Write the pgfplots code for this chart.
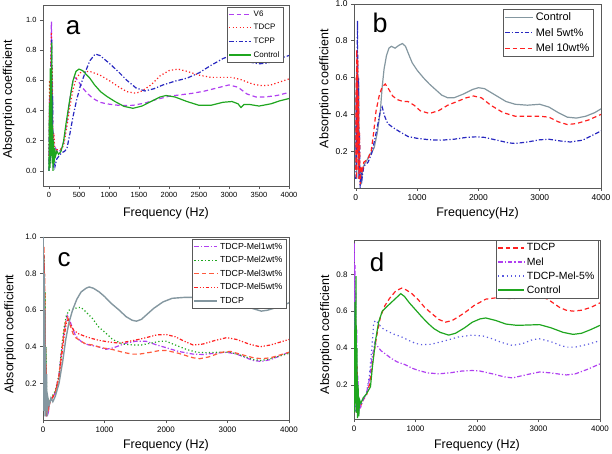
\documentclass[border=0pt]{standalone}
\usepackage{pgfplots}
\pgfplotsset{compat=1.18}
\usepackage{fontspec}
\setmainfont{Liberation Sans}
\definecolor{cgreen}{HTML}{1FA61F}
\definecolor{cred}{HTML}{FF2020}
\definecolor{cblue}{HTML}{2828C0}
\definecolor{cviolet}{HTML}{B040F0}
\definecolor{cgray}{HTML}{8497A0}
\definecolor{corange}{HTML}{FF5A3C}
\definecolor{cdblue}{HTML}{5A5AE0}
\pgfplotsset{
  panel/.style={
    scale only axis, anchor=south west,
    axis line style={gray!70!black, line width=0.8bp},
    tick style={gray!70!black, line width=0.6bp},
    tick align=outside, major tick length=3bp,
    xtick pos=bottom, ytick pos=left,
    tick label style={font=\fontsize{8.5}{9}\selectfont},
    /pgf/number format/assume math mode=true,
    /pgf/number format/set thousands separator={},
    yticklabel style={/pgf/number format/fixed,/pgf/number format/fixed zerofill,/pgf/number format/precision=1},
    label style={font=\fontsize{12.5}{13}\selectfont},
    legend cell align=left,
    legend style={draw=gray!70!black, fill=white, anchor=north east, inner sep=1.5bp},
    every axis plot/.append style={line width=1.2bp},
  },
  dashV/.style={dash pattern=on 4.5bp off 3bp},
  dotR/.style={dash pattern=on 1.2bp off 2.3bp},
  dashdot/.style={dash pattern=on 4.5bp off 2bp on 1.2bp off 2bp},
  dashdotdot/.style={dash pattern=on 3.5bp off 1.8bp on 1.2bp off 1.8bp on 1.2bp off 1.8bp},
}
\begin{document}
\begin{tikzpicture}
\useasboundingbox (0bp,0bp) rectangle (612bp,454bp);
% ---------------- panel a
\begin{axis}[panel, at={(43bp,268bp)}, width=246bp, height=181bp,
  xmin=-100, xmax=4000, ymin=-0.1, ymax=1.1,
  xtick={0,500,...,4000}, ytick={0,0.2,...,1.0},
  tick label style={font=\fontsize{7.5}{8}\selectfont},
  xlabel={Frequency (Hz)}, ylabel={Absorption coefficient},
  xlabel style={at={(axis description cs:0.5,-0.149)},anchor=center},
  ylabel style={at={(axis description cs:-0.14,0.48)},anchor=center},
  legend style={at={(axis description cs:0.976,0.989)}, font=\fontsize{8}{9}\selectfont, row sep=2.5bp},
  legend image code/.code={\draw[line width=1.2bp,#1] (0bp,0bp) -- (22bp,0bp);},
]
\addplot[cviolet, dashV] coordinates {(0,0.05)(10,0.5)(20,0.1)(30,0.7)(40,0.99)(48,0.3)(55,0.6)(65,0.05)(75,0.2)(90,0.1)(110,0.15)(150,0.12)(200,0.14)(250,0.2)(300,0.33)(350,0.48)(400,0.6)(430,0.62)(480,0.6)(560,0.55)(650,0.51)(735,0.48)(850,0.455)(960,0.445)(1100,0.437)(1250,0.433)(1400,0.435)(1600,0.45)(1800,0.475)(2000,0.495)(2200,0.505)(2400,0.515)(2600,0.53)(2800,0.55)(3000,0.57)(3150,0.555)(3300,0.51)(3450,0.49)(3600,0.49)(3800,0.5)(4000,0.52)};
\addlegendentry{V6}
\addplot[cred, dotR] coordinates {(0,0.1)(10,0.6)(20,0.05)(30,0.75)(40,0.92)(48,0.4)(55,0.7)(65,0.1)(80,0.25)(100,0.12)(130,0.14)(170,0.14)(220,0.15)(250,0.18)(300,0.3)(350,0.43)(400,0.54)(450,0.61)(520,0.65)(600,0.66)(700,0.657)(850,0.635)(1000,0.6)(1150,0.56)(1300,0.525)(1450,0.515)(1550,0.53)(1700,0.57)(1850,0.63)(2000,0.665)(2150,0.675)(2300,0.66)(2500,0.635)(2700,0.62)(2900,0.62)(3050,0.62)(3200,0.605)(3400,0.575)(3550,0.565)(3700,0.57)(3850,0.59)(4000,0.61)};
\addlegendentry{TDCP}
\addplot[cblue, dashdot] coordinates {(0,0.0)(10,0.4)(20,0.05)(35,0.6)(45,0.87)(52,0.2)(60,0.5)(70,0.02)(85,0.1)(100,0.03)(130,0.08)(170,0.1)(210,0.12)(260,0.13)(300,0.15)(350,0.25)(400,0.36)(460,0.47)(520,0.56)(600,0.65)(680,0.73)(770,0.775)(850,0.765)(1000,0.715)(1150,0.66)(1300,0.6)(1450,0.55)(1600,0.53)(1750,0.545)(1900,0.57)(2100,0.595)(2300,0.615)(2500,0.65)(2700,0.7)(2900,0.745)(3000,0.76)(3150,0.75)(3300,0.725)(3500,0.71)(3650,0.715)(3800,0.74)(4000,0.765)};
\addlegendentry{TCPP}
\addplot[cgreen] coordinates {(0,0)(8,0.45)(15,0.02)(22,0.68)(30,0.1)(38,0.55)(45,0.85)(52,0.05)(60,0.3)(68,0.0)(75,0.2)(85,0.05)(95,0.15)(110,0.1)(130,0.13)(160,0.11)(200,0.13)(240,0.19)(290,0.33)(345,0.47)(400,0.6)(450,0.66)(500,0.675)(560,0.665)(620,0.64)(680,0.615)(760,0.57)(860,0.525)(960,0.495)(1100,0.46)(1250,0.428)(1400,0.415)(1550,0.43)(1700,0.46)(1850,0.49)(1950,0.5)(2100,0.49)(2300,0.46)(2500,0.435)(2700,0.435)(2900,0.455)(3050,0.46)(3150,0.445)(3200,0.42)(3250,0.44)(3350,0.44)(3500,0.43)(3700,0.445)(3850,0.465)(4000,0.48)};
\addlegendentry{Control}
\end{axis}
\node[font=\fontsize{26}{26}\selectfont] at (73bp,426bp) {a};
% ---------------- panel b
\begin{axis}[panel, at={(354bp,266bp)}, width=247bp, height=184bp,
  xmin=-30, xmax=4000, ymin=0, ymax=1.0,
  xtick={0,1000,...,4000}, ytick={0.2,0.4,...,1.0},
  xlabel={Frequency(Hz)}, ylabel={Absorption coefficient},
  xlabel style={at={(axis description cs:0.5,-0.136)},anchor=center},
  ylabel style={at={(axis description cs:-0.117,0.54)},anchor=center},
  legend style={at={(axis description cs:0.968,0.973)}, font=\fontsize{11}{12}\selectfont, row sep=2bp},
  legend image code/.code={\draw[line width=1.3bp,#1] (0bp,0bp) -- (28bp,0bp);},
]
\addplot[cgray] coordinates {(0,0.1)(8,0.6)(15,0.05)(25,0.7)(35,0.2)(45,0.6)(55,0.05)(70,0.1)(90,0.02)(110,0.1)(140,0.13)(180,0.15)(220,0.18)(270,0.2)(300,0.22)(350,0.3)(400,0.42)(430,0.55)(460,0.645)(500,0.72)(540,0.76)(580,0.77)(640,0.76)(700,0.775)(760,0.785)(810,0.77)(870,0.72)(920,0.68)(1000,0.64)(1100,0.6)(1200,0.565)(1300,0.535)(1400,0.505)(1500,0.49)(1600,0.49)(1750,0.51)(1900,0.535)(2000,0.545)(2100,0.54)(2250,0.51)(2450,0.47)(2600,0.455)(2800,0.45)(3000,0.455)(3150,0.44)(3300,0.41)(3450,0.385)(3600,0.38)(3750,0.39)(3900,0.41)(4000,0.43)};
\addlegendentry{Control}
\addplot[cblue, dashdot] coordinates {(0,0.05)(6,0.5)(12,0.1)(20,0.7)(28,0.91)(34,0.2)(42,0.6)(50,0.05)(60,0.3)(70,0.0)(85,0.1)(100,0.05)(130,0.12)(170,0.13)(200,0.14)(260,0.19)(300,0.25)(350,0.33)(400,0.42)(430,0.44)(470,0.39)(520,0.35)(600,0.33)(720,0.305)(850,0.28)(1000,0.27)(1200,0.262)(1400,0.26)(1600,0.265)(1800,0.275)(1950,0.278)(2100,0.275)(2300,0.26)(2500,0.245)(2600,0.242)(2800,0.25)(3000,0.262)(3150,0.265)(3350,0.255)(3500,0.25)(3700,0.26)(3850,0.285)(4000,0.31)};
\addlegendentry{Mel 5wt\%}
\addplot[cred, dashV] coordinates {(0,0.1)(5,0.6)(10,0.05)(16,0.75)(24,0.2)(30,0.7)(38,0.1)(45,0.5)(52,0.05)(60,0.3)(70,0.02)(85,0.12)(100,0.08)(130,0.14)(170,0.15)(200,0.16)(250,0.2)(290,0.3)(330,0.42)(380,0.5)(430,0.55)(480,0.565)(540,0.535)(600,0.5)(680,0.48)(770,0.47)(850,0.47)(950,0.45)(1050,0.42)(1200,0.405)(1350,0.42)(1500,0.45)(1650,0.47)(1800,0.49)(1920,0.5)(2050,0.49)(2200,0.45)(2400,0.41)(2600,0.39)(2800,0.39)(3000,0.39)(3150,0.385)(3300,0.36)(3450,0.345)(3600,0.35)(3800,0.37)(4000,0.4)};
\addlegendentry{Mel 10wt\%}
\end{axis}
\node[font=\fontsize{27}{27}\selectfont] at (380bp,431bp) {b};
% ---------------- panel c
\begin{axis}[panel, at={(43bp,34bp)}, width=246bp, height=183bp,
  xmin=0, xmax=4000, ymin=0, ymax=1.0,
  xtick={0,1000,...,4000}, ytick={0.2,0.4,...,1.0},
  tick label style={font=\fontsize{8}{9}\selectfont},
  xlabel={Frequency (Hz)}, ylabel={Absorption coefficient},
  xlabel style={at={(axis description cs:0.5,-0.137)},anchor=center},
  ylabel style={at={(axis description cs:-0.134,0.47)},anchor=center},
  legend style={at={(axis description cs:0.988,0.989)}, font=\fontsize{8.8}{9.5}\selectfont, row sep=1.8bp},
  legend image code/.code={\draw[line width=1.2bp,#1] (0bp,0bp) -- (23bp,0bp);},
]
\addplot[cviolet, dashdot] coordinates {(0,0.3)(5,0.9)(10,0.1)(16,0.85)(24,0.2)(30,0.6)(38,0.05)(45,0.3)(55,0.02)(70,0.1)(90,0.05)(110,0.1)(150,0.12)(200,0.15)(260,0.25)(300,0.37)(350,0.5)(395,0.57)(430,0.55)(480,0.5)(530,0.46)(586,0.44)(650,0.42)(749,0.41)(900,0.4)(1022,0.386)(1150,0.395)(1349,0.42)(1500,0.43)(1677,0.43)(1850,0.41)(2004,0.395)(2200,0.375)(2440,0.36)(2600,0.358)(2800,0.365)(2986,0.37)(3150,0.36)(3300,0.34)(3422,0.325)(3550,0.32)(3700,0.33)(3850,0.35)(4000,0.37)};
\addlegendentry{TDCP-Mel1wt\%}
\addplot[cgreen, dotR] coordinates {(0,0.4)(6,0.95)(12,0.2)(20,0.9)(28,0.3)(35,0.7)(42,0.1)(50,0.4)(60,0.05)(75,0.12)(100,0.1)(150,0.13)(200,0.16)(258,0.24)(300,0.38)(340,0.5)(380,0.57)(422,0.6)(500,0.605)(560,0.615)(620,0.615)(700,0.59)(804,0.555)(900,0.51)(1022,0.475)(1131,0.44)(1300,0.415)(1458,0.41)(1600,0.41)(1750,0.42)(1900,0.43)(2004,0.43)(2150,0.41)(2331,0.386)(2500,0.37)(2658,0.368)(2850,0.37)(3050,0.37)(3250,0.35)(3422,0.33)(3550,0.325)(3700,0.335)(3850,0.35)(4000,0.364)};
\addlegendentry{TDCP-Mel2wt\%}
\addplot[corange, dashV] coordinates {(0,0.2)(4,0.85)(9,0.1)(15,0.95)(22,0.25)(30,0.8)(37,0.1)(45,0.4)(55,0.03)(70,0.1)(90,0.06)(120,0.11)(150,0.12)(200,0.15)(260,0.24)(300,0.36)(340,0.48)(370,0.54)(400,0.56)(440,0.52)(490,0.47)(531,0.45)(620,0.43)(700,0.415)(804,0.41)(950,0.395)(1131,0.385)(1300,0.37)(1450,0.36)(1567,0.36)(1750,0.37)(1900,0.38)(2004,0.38)(2200,0.365)(2440,0.34)(2550,0.335)(2700,0.345)(2900,0.37)(3050,0.375)(3200,0.36)(3422,0.34)(3550,0.335)(3700,0.34)(3850,0.355)(4000,0.37)};
\addlegendentry{TDCP-Mel3wt\%}
\addplot[cred, dashdotdot] coordinates {(0,0.1)(5,0.8)(11,0.15)(18,0.9)(26,0.2)(33,0.6)(40,0.05)(48,0.3)(58,0.02)(72,0.1)(95,0.07)(120,0.11)(150,0.12)(200,0.15)(260,0.23)(300,0.34)(340,0.45)(380,0.53)(410,0.55)(450,0.52)(500,0.49)(586,0.47)(700,0.455)(800,0.445)(913,0.435)(1100,0.425)(1240,0.42)(1400,0.43)(1550,0.44)(1677,0.45)(1850,0.465)(2004,0.467)(2150,0.455)(2300,0.43)(2440,0.41)(2600,0.415)(2800,0.435)(2986,0.45)(3150,0.44)(3350,0.415)(3531,0.4)(3700,0.41)(3850,0.425)(4000,0.44)};
\addlegendentry{TDCP-Mel5wt\%}
\addplot[cgray, line width=1.4bp] coordinates {(0,0.05)(3,1.0)(7,0.1)(11,0.9)(15,0.05)(20,0.8)(25,0.1)(30,0.6)(35,0.02)(42,0.4)(50,0.05)(58,0.25)(66,0.02)(80,0.12)(100,0.08)(130,0.12)(160,0.1)(200,0.13)(260,0.2)(320,0.32)(370,0.44)(420,0.53)(480,0.6)(550,0.66)(620,0.7)(700,0.72)(750,0.727)(820,0.72)(913,0.7)(1000,0.675)(1100,0.64)(1240,0.6)(1350,0.565)(1450,0.545)(1520,0.54)(1600,0.55)(1700,0.58)(1800,0.61)(1950,0.645)(2100,0.665)(2300,0.67)(2550,0.67)(2800,0.675)(2986,0.68)(3100,0.665)(3250,0.635)(3400,0.61)(3550,0.595)(3650,0.6)(3800,0.615)(4000,0.64)};
\addlegendentry{TDCP}
\end{axis}
\node[font=\fontsize{26}{26}\selectfont] at (64bp,194bp) {c};
% ---------------- panel d
\begin{axis}[panel, at={(354bp,35bp)}, width=246bp, height=179bp,
  xmin=0, xmax=4000, ymin=0.015, ymax=0.986,
  xtick={0,1000,...,4000}, ytick={0.2,0.4,...,1.0},
  tick label style={font=\fontsize{8}{9}\selectfont},
  xlabel={Frequency (Hz)}, ylabel={Absorption coefficient},
  xlabel style={at={(axis description cs:0.5,-0.145)},anchor=center},
  ylabel style={at={(axis description cs:-0.114,0.47)},anchor=center},
  legend style={at={(axis description cs:0.992,1.0)}, font=\fontsize{10.5}{11}\selectfont, row sep=1bp},
  legend image code/.code={\draw[line width=1.3bp,#1] (0bp,0bp) -- (26bp,0bp);},
]
\addplot[cred, dashV] coordinates {(0,0.1)(5,0.5)(10,0.05)(18,0.6)(26,0.1)(34,0.45)(42,0.05)(52,0.3)(62,0.03)(80,0.1)(100,0.08)(150,0.12)(200,0.14)(250,0.2)(300,0.32)(366,0.46)(430,0.57)(503,0.63)(580,0.67)(680,0.71)(776,0.725)(850,0.715)(940,0.695)(1050,0.66)(1150,0.62)(1268,0.586)(1380,0.555)(1486,0.54)(1600,0.55)(1700,0.57)(1814,0.595)(1950,0.63)(2142,0.665)(2300,0.672)(2579,0.668)(2800,0.675)(3016,0.68)(3150,0.665)(3344,0.62)(3450,0.605)(3563,0.6)(3700,0.605)(3850,0.62)(4000,0.645)};
\addlegendentry{TDCP}
\addplot[cviolet, dashdot] coordinates {(0,0.2)(4,0.97)(9,0.1)(15,0.85)(22,0.15)(29,0.7)(36,0.05)(44,0.5)(52,0.05)(62,0.25)(72,0.03)(90,0.1)(110,0.08)(150,0.12)(200,0.15)(250,0.23)(290,0.34)(339,0.43)(380,0.41)(440,0.385)(503,0.37)(600,0.345)(700,0.325)(830,0.31)(950,0.29)(1049,0.278)(1200,0.265)(1377,0.26)(1550,0.265)(1750,0.275)(1923,0.278)(2050,0.275)(2251,0.26)(2450,0.243)(2579,0.238)(2800,0.255)(3016,0.27)(3200,0.265)(3350,0.258)(3453,0.254)(3600,0.26)(3800,0.285)(4000,0.314)};
\addlegendentry{Mel}
\addplot[cdblue, dash pattern=on 1.2bp off 3bp] coordinates {(0,0.1)(6,0.6)(12,0.1)(20,0.55)(28,0.05)(36,0.4)(45,0.05)(55,0.2)(70,0.05)(90,0.1)(120,0.1)(150,0.12)(200,0.15)(250,0.25)(290,0.4)(322,0.54)(360,0.55)(448,0.51)(550,0.49)(650,0.475)(776,0.46)(900,0.44)(1000,0.425)(1104,0.418)(1250,0.42)(1486,0.44)(1700,0.46)(1923,0.47)(2100,0.465)(2251,0.45)(2400,0.43)(2579,0.414)(2750,0.425)(2900,0.445)(3016,0.45)(3200,0.435)(3350,0.415)(3453,0.405)(3600,0.405)(3800,0.42)(4000,0.44)};
\addlegendentry{TDCP-Mel-5\%}
\addplot[cgreen] coordinates {(0,0.05)(5,0.5)(10,0.05)(17,0.65)(24,0.1)(32,0.79)(40,0.05)(48,0.4)(56,0.02)(66,0.2)(78,0.03)(90,0.12)(110,0.1)(150,0.13)(200,0.15)(268,0.19)(300,0.3)(350,0.44)(400,0.54)(459,0.6)(520,0.62)(600,0.645)(680,0.67)(760,0.695)(820,0.68)(900,0.645)(994,0.61)(1100,0.57)(1200,0.535)(1300,0.505)(1400,0.485)(1541,0.47)(1650,0.48)(1800,0.51)(1923,0.54)(2050,0.558)(2142,0.563)(2300,0.55)(2470,0.53)(2650,0.523)(2850,0.525)(3016,0.527)(3200,0.51)(3400,0.485)(3563,0.474)(3700,0.48)(3850,0.5)(4000,0.523)};
\addlegendentry{Control}
\end{axis}
\node[font=\fontsize{26}{26}\selectfont] at (377bp,192bp) {d};
\end{tikzpicture}
\end{document}
